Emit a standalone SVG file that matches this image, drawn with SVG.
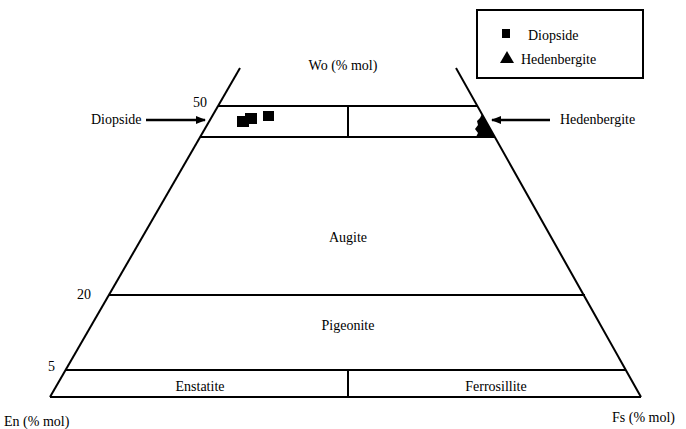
<svg xmlns="http://www.w3.org/2000/svg" width="686" height="429" viewBox="0 0 686 429" font-family="'Liberation Serif', 'DejaVu Serif', serif" font-size="14">
<defs>
<style>
.ln{stroke:#000;stroke-width:2;fill:none}
.ar{stroke:#000;stroke-width:2.5;fill:none}
</style>
<marker id="ah" markerWidth="10" markerHeight="8" refX="9" refY="4" orient="auto" markerUnits="userSpaceOnUse">
<path d="M0,0 L10,4 L0,8 Z" fill="#000"/>
</marker>
</defs>
<rect width="686" height="429" fill="#fff"/>
<g id="frame">
<line class="ln" x1="240" y1="68" x2="50" y2="397"/>
<line class="ln" x1="456" y1="68" x2="641" y2="397"/>
<line class="ln" x1="218" y1="106" x2="477" y2="106"/>
<line class="ln" x1="200" y1="137" x2="495" y2="137"/>
<line class="ln" x1="348" y1="106" x2="348" y2="137"/>
<line class="ln" x1="109" y1="295" x2="585" y2="295"/>
<line class="ln" x1="66" y1="370" x2="626" y2="370"/>
<line class="ln" x1="50" y1="397" x2="641" y2="397"/>
<line class="ln" x1="348" y1="370" x2="348" y2="397"/>
</g>
<g id="labels">
<text x="343" y="70" text-anchor="middle">Wo (% mol)</text>
<text x="193" y="107">50</text>
<text x="77" y="299">20</text>
<text x="48" y="371">5</text>
<text x="348" y="242" text-anchor="middle">Augite</text>
<text x="348" y="330" text-anchor="middle">Pigeonite</text>
<text x="200" y="391" text-anchor="middle">Enstatite</text>
<text x="496" y="391" text-anchor="middle">Ferrosillite</text>
<text x="4" y="426">En (% mol)</text>
<text x="612" y="422">Fs (% mol)</text>
</g>
<g id="diopside-label">
<text x="91" y="124">Diopside</text>
</g>
<g id="hedenbergite-label">
<text x="560" y="124">Hedenbergite</text>
</g>
<g id="connectors">
<line class="ar" x1="146" y1="120" x2="205" y2="120" marker-end="url(#ah)"/>
<line class="ar" x1="550" y1="120" x2="492" y2="120" marker-end="url(#ah)"/>
</g>
<g id="data">
<rect x="237" y="116" width="12" height="11" fill="#000"/>
<rect x="245" y="113" width="12" height="11" fill="#000"/>
<rect x="263" y="111" width="11" height="10" fill="#000"/>
<polygon points="482,114 495,137 476,137 478,133 475,129 478,125 477,121 480,118" fill="#000"/>
</g>
<g id="legend">
<rect x="477" y="10" width="166" height="68" fill="#fff" stroke="#000" stroke-width="2"/>
<rect x="502" y="29" width="8" height="9" fill="#000"/>
<text x="528" y="40">Diopside</text>
<polygon points="507,51 514,63 500,63" fill="#000"/>
<text x="521" y="64">Hedenbergite</text>
</g>
</svg>
